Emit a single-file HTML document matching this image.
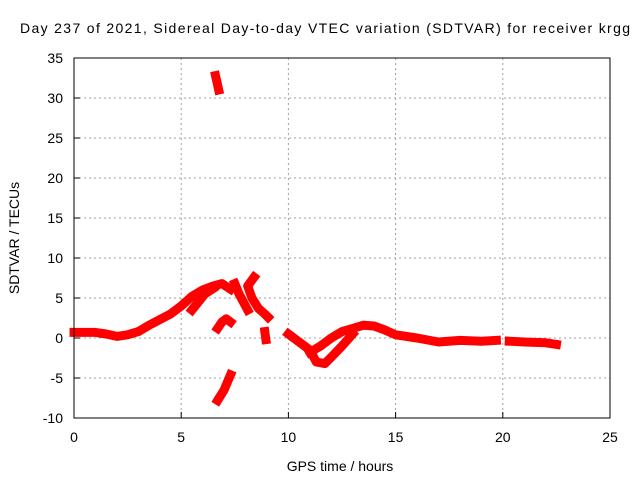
<!DOCTYPE html>
<html><head><meta charset="utf-8"><style>
body{margin:0;background:#fff}
svg{display:block;font-family:"Liberation Sans",sans-serif}
</style></head><body>
<svg width="640" height="480">
<text x="20" y="33" font-size="14" textLength="610" lengthAdjust="spacing">Day 237 of 2021, Sidereal Day-to-day VTEC variation (SDTVAR) for receiver krgg</text>
<g id="grid"></g>
<g id="axes"></g>
<g id="marks"></g>
<rect x="74" y="58" width="536" height="360" fill="none" stroke="#000" stroke-width="1"/>
<text x="340" y="471" font-size="14" text-anchor="middle">GPS time / hours</text>
<text transform="translate(19,238) rotate(-90)" font-size="14" text-anchor="middle">SDTVAR / TECUs</text>
</svg>
<script>
const xTicks=[0,5,10,15,20,25];
const yTicks=[-10,-5,0,5,10,15,20,25,30,35];
const segMain=[[0,0.7],[0.5,0.7],[1,0.7],[1.5,0.5],[2,0.2],[2.5,0.4],[3,0.8],[3.5,1.6],[4,2.3],[4.5,3],[5,4],[5.5,5.2],[6,6],[6.5,6.5],[6.9,6.8],[7.3,6.1]];
const segBranch=[[5.5,3.5],[5.8,4.5],[6.1,5.5],[6.5,6.2]];
const segHump=[[6.7,1.2],[6.9,2],[7.1,2.4],[7.3,2.0]];
const segFall=[[6.7,-7.8],[7,-6.5],[7.3,-4.6]];
const segSpike=[[6.6,32.8],[6.75,31]];
const segD1=[[7.5,6.8],[7.7,5.5],[7.9,4.5],[8.1,3.5]];
const segD2=[[8.4,7.6],[8.1,6.5],[8.3,5],[8.6,3.7],[8.9,3],[9.05,2.6]];
const segD3=[[8.9,0.8],[8.95,-0.2]];
const segE1=[[10,0.5],[10.5,-0.5],[11,-1.5],[11.3,-3],[11.7,-3.2],[12,-2.4],[12.5,-1],[13,0.5]];
const segE2=[[11,-1.8],[11.5,-1],[12,0],[12.5,0.8],[13,1.2],[13.5,1.6],[14,1.5],[14.5,1],[15,0.4],[16,0],[17,-0.5],[18,-0.3],[19,-0.4],[19.7,-0.3]];
const segE3=[[20.3,-0.4],[21,-0.5],[22,-0.6],[22.5,-0.8]];
const segments=[segMain,segBranch,segHump,segFall,segSpike,segD1,segD2,segD3,segE1,segE2,segE3];
const NS='http://www.w3.org/2000/svg';
const X=v=>74+v*536/25, Y=v=>418-(v+10)*8;
const grid=document.getElementById('grid'),axes=document.getElementById('axes'),marks=document.getElementById('marks');
function mk(t,a,p){const e=document.createElementNS(NS,t);for(const k in a)e.setAttribute(k,a[k]);p.appendChild(e);return e;}
xTicks.forEach(t=>{
 if(t>0&&t<25){const g=mk('line',{x1:X(t),x2:X(t),y1:58,y2:418,stroke:'#a0a0a0','stroke-dasharray':'2,3'},grid);
 
 }
 mk('line',{x1:X(t),x2:X(t),y1:418,y2:412,stroke:'#000'},axes);
 const l=mk('text',{x:X(t),y:442,'font-size':14,'text-anchor':'middle'},axes);l.textContent=t;
 
 
});
yTicks.forEach(t=>{
 if(t>-10&&t<35){const g=mk('line',{x1:74,x2:610,y1:Y(t),y2:Y(t),stroke:'#a0a0a0','stroke-dasharray':'2,3'},grid);
 
 }
 mk('line',{x1:74,x2:80,y1:Y(t),y2:Y(t),stroke:'#000'},axes);
 const l=mk('text',{x:63,y:Y(t)+5,'font-size':14,'text-anchor':'end'},axes);l.textContent=t;
 
 
});
segments.forEach(s=>{
 const p=mk('polyline',{points:s.map(d=>X(d[0])+','+Y(d[1])).join(' '),fill:'none',stroke:'#ff0000','stroke-width':9,'stroke-linejoin':'round','stroke-linecap':'square'},marks);
 
 
});
</script>
</body></html>
